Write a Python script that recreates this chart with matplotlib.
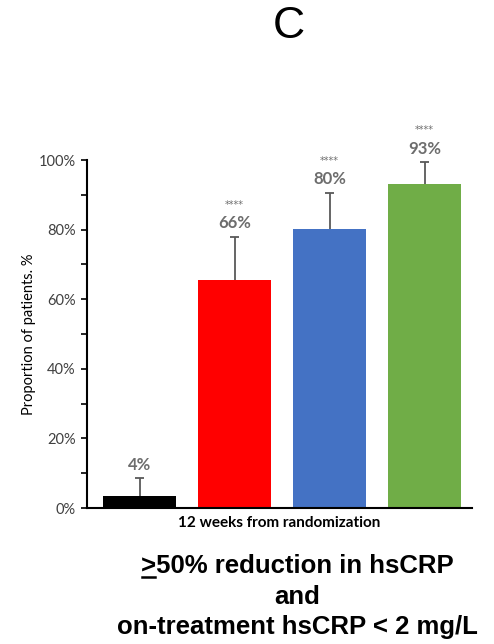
import matplotlib
matplotlib.use("Agg")
import matplotlib.pyplot as plt
from matplotlib.ticker import MultipleLocator, PercentFormatter

values = [3.4, 65.5, 80.2, 93.1]
err_up = [5.2, 12.4, 10.3, 6.3]
labels = ["4%", "66%", "80%", "93%"]
stars = ["", "****", "****", "****"]
colors = ["#000000", "#ff0000", "#4472c4", "#70ad47"]

fig = plt.figure(figsize=(4.94, 6.44), dpi=100)
ax = fig.add_axes([87 / 494, 1 - 508 / 644, 385 / 494, 348 / 644])

x = list(range(len(values)))
ax.bar(x, values, width=0.77, color=colors, zorder=2)
tops = [v + e for v, e in zip(values, err_up)]
ax.vlines(x, values, tops, color="#595959", lw=1.3, zorder=3)
ax.hlines(tops, [i - 0.045 for i in x], [i + 0.045 for i in x],
          color="#595959", lw=1.3, zorder=3)

for i in x:
    ax.text(i, tops[i] + 1.6, labels[i], ha="center", va="bottom", fontsize=12,
            fontweight="bold", color="#6d6d6d", family="Lato")
    if stars[i]:
        ax.text(i, tops[i] + 7.8, stars[i], ha="center", va="bottom", fontsize=7,
                color="#6d6d6d", family="DejaVu Sans")

ax.set_xlim(-0.553, 3.5)
ax.set_ylim(0, 100)
ax.yaxis.set_major_locator(MultipleLocator(20))
ax.yaxis.set_minor_locator(MultipleLocator(10))
ax.yaxis.set_major_formatter(PercentFormatter(decimals=0))
ax.tick_params(axis="y", which="both", direction="out", length=4, width=1.2,
               labelsize=10.5, labelcolor="#404040", pad=4)
ax.tick_params(axis="x", bottom=False, labelbottom=False)
for lbl in ax.get_yticklabels():
    lbl.set_family("Lato")
ax.spines["top"].set_visible(False)
ax.spines["right"].set_visible(False)
ax.spines["left"].set_linewidth(1.5)
ax.spines["bottom"].set_linewidth(1.5)

ax.set_ylabel("Proportion of patients. %", fontsize=10.5, family="Lato", labelpad=2)
ax.set_xlabel("12 weeks from randomization", fontsize=11, family="Lato",
              fontweight="bold", labelpad=6)

fig.text(289 / 494, 1 - 26 / 644, "C", ha="center", va="center", fontsize=32,
         family="Liberation Sans")

bottom_lines = [">50% reduction in hsCRP", "and", "on-treatment hsCRP < 2 mg/L"]
ys = [566, 597, 627]
font = dict(fontsize=18.5, fontweight="bold", family="Liberation Sans")
txts = []
for s, yy in zip(bottom_lines, ys):
    txts.append(fig.text(297 / 494, 1 - yy / 644, s, ha="center", va="center", **font))

# underline the ">" on the first line
fig.canvas.draw()
r = fig.canvas.get_renderer()
bb = txts[0].get_window_extent(r)
probe = fig.text(0, 0, ">", **font)
pw = probe.get_window_extent(r).width
probe.remove()
x0 = bb.x0 / fig.bbox.width
x1 = (bb.x0 + pw) / fig.bbox.width
yl = (bb.y0 + 1) / fig.bbox.height
fig.add_artist(plt.Line2D([x0 + 0.003, x1 - 0.002], [yl, yl], color="black", lw=1.8))

fig.savefig("out.png", dpi=100)
